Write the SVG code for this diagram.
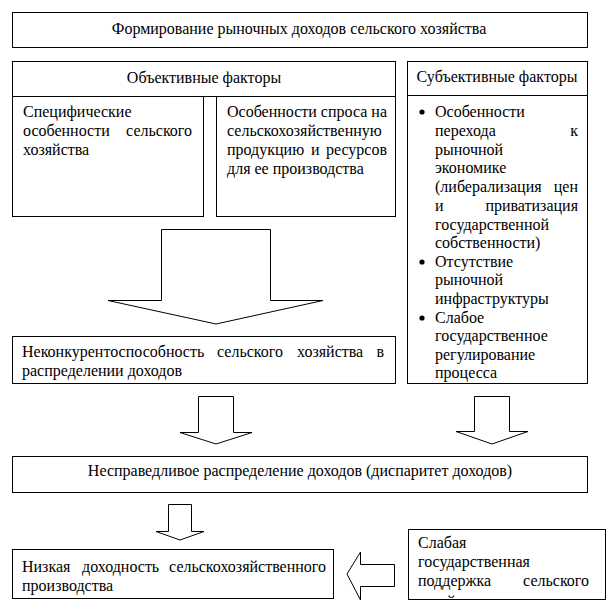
<svg xmlns="http://www.w3.org/2000/svg" width="612" height="612" viewBox="0 0 612 612">
<style>
.b{fill:#fff;stroke:#000;stroke-width:1}
.a{fill:#fff;stroke:#000;stroke-width:1}
text{font-family:'Liberation Serif','Times New Roman',serif;font-size:16px;fill:#000}
.c{text-anchor:middle}
.e{text-anchor:end}
</style>
<defs>
<clipPath id="clipWeak"><rect x="408" y="529" width="198" height="69"/></clipPath>
</defs>
<rect width="612" height="612" fill="#fff"/>
<g id="node-title">
<rect class="b" x="12.5" y="12.5" width="575" height="35"/>
<text class="c" x="299" y="34">Формирование рыночных доходов сельского хозяйства</text>
</g>
<g id="node-objective">
<rect class="b" x="12.5" y="61.5" width="383" height="35"/>
<text class="c" x="204" y="83">Объективные факторы</text>
</g>
<g id="node-specific">
<rect class="b" x="12.5" y="96.5" width="191" height="120"/>
<text x="23" y="117">Специфические</text>
<text x="23" y="136">особенности</text><text class="e" x="192" y="136">сельского</text>
<text x="23" y="155">хозяйства</text>
</g>
<g id="node-demand">
<rect class="b" x="216.5" y="96.5" width="179" height="120"/>
<text x="227" y="117" textLength="160" lengthAdjust="spacingAndGlyphs">Особенности спроса на</text>
<text x="227" y="136">сельскохозяйственную</text>
<text x="227" y="155">продукцию</text><text x="311" y="155">и</text><text class="e" x="387" y="155">ресурсов</text>
<text x="227" y="174">для ее производства</text>
</g>
<g id="node-subjective">
<rect class="b" x="407.5" y="61.5" width="180" height="34"/>
<text class="c" x="497" y="82">Субъективные факторы</text>
<rect class="b" x="407.5" y="95.5" width="180" height="288"/>
<circle cx="422" cy="112" r="2.6" fill="#000"/>
<circle cx="422" cy="262" r="2.6" fill="#000"/>
<circle cx="422" cy="318" r="2.6" fill="#000"/>
<text x="435" y="117">Особенности</text>
<text x="435" y="136">перехода</text><text class="e" x="578" y="136">к</text>
<text x="435" y="155">рыночной</text>
<text x="435" y="173">экономике</text>
<text x="435" y="192">(либерализация</text><text class="e" x="578" y="192">цен</text>
<text x="435" y="211">и</text><text class="e" x="578" y="211">приватизация</text>
<text x="435" y="230">государственной</text>
<text x="435" y="248">собственности)</text>
<text x="435" y="267">Отсутствие</text>
<text x="435" y="285">рыночной</text>
<text x="435" y="304">инфраструктуры</text>
<text x="435" y="323">Слабое</text>
<text x="435" y="341">государственное</text>
<text x="435" y="360">регулирование</text>
<text x="435" y="378">процесса</text>
</g>
<g id="node-uncompetitive">
<rect class="b" x="12.5" y="336.5" width="383" height="47"/>
<text x="22" y="357">Неконкурентоспособность</text><text x="217" y="357">сельского</text><text x="297" y="357">хозяйства</text><text class="e" x="384" y="357">в</text>
<text x="22" y="376">распределении доходов</text>
</g>
<g id="node-unfair">
<rect class="b" x="12.5" y="456.5" width="575" height="36"/>
<text class="c" x="300" y="476">Несправедливое распределение доходов (диспаритет доходов)</text>
</g>
<g id="node-low">
<rect class="b" x="12.5" y="549.5" width="321" height="49"/>
<text x="22" y="572">Низкая</text><text x="82" y="572">доходность</text><text class="e" x="326" y="572">сельскохозяйственного</text>
<text x="22" y="591">производства</text>
</g>
<g id="node-weak">
<rect class="b" x="408.5" y="529.5" width="197" height="70"/>
<text x="418" y="548">Слабая</text>
<text x="418" y="567">государственная</text>
<text x="418" y="586">поддержка</text><text class="e" x="589" y="586">сельского</text>
<g clip-path="url(#clipWeak)"><text x="418" y="607">хозяйства</text></g>
</g>
<g id="connectors">
<polygon class="a" points="161.5,229.5 270.5,229.5 270.5,300.5 323,300.5 216,324 108,300.5 161.5,300.5"/>
<polygon class="a" points="198.5,396.5 233.5,396.5 233.5,432.5 252,432.5 216,444 180,432.5 198.5,432.5"/>
<polygon class="a" points="474.5,396.5 509.5,396.5 509.5,431.5 528,431.5 492,444 456,431.5 474.5,431.5"/>
<polygon class="a" points="168.5,504.5 191.5,504.5 191.5,531.5 204,531.5 180,540 156,531.5 168.5,531.5"/>
<polygon class="a" points="394.5,564.5 394.5,586.5 360.5,586.5 360.5,600 347,574 360.5,552 360.5,564.5"/>
</g>
</svg>
